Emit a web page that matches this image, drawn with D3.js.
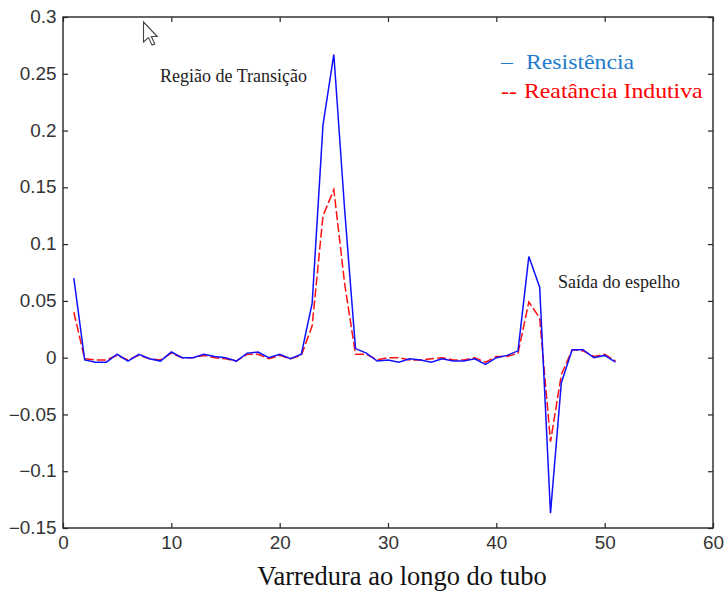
<!DOCTYPE html>
<html>
<head>
<meta charset="utf-8">
<script src="https://cdn.jsdelivr.net/npm/d3@7/dist/d3.min.js"></script>
<style>
  html, body { margin: 0; padding: 0; background: #fff; }
  svg { display: block; }
</style>
</head>
<body>
<svg id="chart" width="724" height="592"></svg>
<script>
// ---- data ----
const scanPos = d3.range(1, 52);
const resistencia = [
  0.070, -0.002, -0.004, -0.004, 0.003, -0.003, 0.003, -0.001, -0.003, 0.005,
  0.000, 0.000, 0.003, 0.001, 0.000, -0.003, 0.004, 0.005, 0.000, 0.003,
  -0.001, 0.003, 0.048, 0.205, 0.267, 0.130, 0.008, 0.004, -0.003, -0.002,
  -0.004, -0.001, -0.002, -0.004, -0.001, -0.003, -0.003, -0.001, -0.006, 0.000,
  0.002, 0.006, 0.089, 0.062, -0.137, -0.022, 0.007, 0.007, 0.000, 0.002,
  -0.004
];
const reatancia = [
  0.040, -0.001, -0.002, -0.002, 0.002, -0.002, 0.002, -0.001, -0.002, 0.004,
  0.000, 0.000, 0.002, 0.000, -0.001, -0.003, 0.003, 0.003, -0.001, 0.002,
  -0.001, 0.002, 0.028, 0.125, 0.148, 0.065, 0.003, 0.003, -0.002, 0.000,
  0.000, -0.002, -0.002, -0.001, 0.000, -0.002, -0.002, 0.000, -0.004, 0.001,
  0.001, 0.004, 0.049, 0.035, -0.074, -0.015, 0.007, 0.006, 0.001, 0.003,
  -0.003
];
const xTicks = [0, 10, 20, 30, 40, 50, 60];
const yTicks = [-0.15, -0.1, -0.05, 0, 0.05, 0.1, 0.15, 0.2, 0.25, 0.3];
const seriesNames = ["Resistência", "Reatância Indutiva"];
const annotations = [
  { text: "Região de Transição", px: 160, py: 82 },
  { text: "Saída do espelho", px: 558, py: 288 }
];
const xLabel = "Varredura ao longo do tubo";

// ---- layout ----
const L = 63, R = 713, T = 17, B = 528;
const svg = d3.select("#chart");
const x = d3.scaleLinear().domain([0, 60]).range([L, R]);
const y = d3.scaleLinear().domain([-0.15, 0.3]).range([B, T]);

const axisColor = "#262626";
const labelColor = "#333";
const tickFmt = d => d3.format("")(+d.toFixed(2));

function styleAxis(g, showLabels) {
  g.select(".domain").remove();
  g.selectAll(".tick line").attr("stroke", axisColor).attr("stroke-width", 1.2);
  g.selectAll("text")
    .attr("fill", labelColor)
    .style("font-family", "'Liberation Sans', Arial, sans-serif")
    .style("font-size", "17.5px");
  if (!showLabels) g.selectAll("text").remove();
}

// left
svg.append("g").attr("transform", `translate(${L},0)`)
  .call(d3.axisLeft(y).tickValues(yTicks).tickSize(-5).tickPadding(6).tickFormat(tickFmt))
  .call(g => styleAxis(g, true))
  .call(g => g.selectAll("text").attr("transform", "scale(1.08,1)"));
// right
svg.append("g").attr("transform", `translate(${R},0)`)
  .call(d3.axisRight(y).tickValues(yTicks).tickSize(-5))
  .call(g => styleAxis(g, false));
// bottom
svg.append("g").attr("transform", `translate(0,${B})`)
  .call(d3.axisBottom(x).tickValues(xTicks).tickSize(-5).tickPadding(9).tickFormat(d3.format("d")))
  .call(g => styleAxis(g, true))
  .call(g => g.selectAll("text").attr("transform", "scale(1.08,1)"));
// top
svg.append("g").attr("transform", `translate(0,${T})`)
  .call(d3.axisTop(x).tickValues(xTicks).tickSize(-5))
  .call(g => styleAxis(g, false));

// box
svg.append("rect")
  .attr("x", L).attr("y", T).attr("width", R - L).attr("height", B - T)
  .attr("fill", "none").attr("stroke", axisColor).attr("stroke-width", 1.4);

// lines
const line = d3.line().x(d => x(d[0])).y(d => y(d[1]));
svg.append("path")
  .datum(scanPos.map((p, i) => [p, reatancia[i]]))
  .attr("d", line).attr("fill", "none")
  .attr("stroke", "#ff1010").attr("stroke-width", 1.5)
  .attr("stroke-dasharray", "9,3");
svg.append("path")
  .datum(scanPos.map((p, i) => [p, resistencia[i]]))
  .attr("d", line).attr("fill", "none")
  .attr("stroke", "#1010ff").attr("stroke-width", 1.5);

// text helper
function addText(px, py, str, size, fill, family, sx, anchor, sy) {
  svg.append("text")
    .attr("transform", `translate(${px},${py}) scale(${sx || 1},${sy || 1})`)
    .attr("text-anchor", anchor || "start")
    .attr("fill", fill)
    .style("font-family", family)
    .style("font-size", size + "px")
    .text(str);
}
const serif = "'Liberation Serif', 'Times New Roman', serif";

annotations.forEach(a => addText(a.px, a.py, a.text, 18, "#222", serif, 1));

// legend
addText(501, 69, "–", 22, "#1f7bcc", serif, 1.08);
addText(526, 69, seriesNames[0], 22, "#1f7bcc", serif, 1.08);
addText(501, 98, "--", 22, "#ff0000", serif, 1.08);
addText(524, 98, seriesNames[1], 22, "#ff0000", serif, 1.08);

// x label
addText(402, 585, xLabel, 27, "#111", serif, 0.98, "middle", 1.04);

// mouse cursor artifact
svg.append("path")
  .attr("transform", "translate(143.5,22) scale(1.25)")
  .attr("d", "M0,0 L0,16 L4,12.5 L6.8,18.5 L9,17.5 L6.3,11.6 L11,11.6 Z")
  .attr("fill", "#fff").attr("stroke", "#444").attr("stroke-width", 0.9);
</script>
</body>
</html>
